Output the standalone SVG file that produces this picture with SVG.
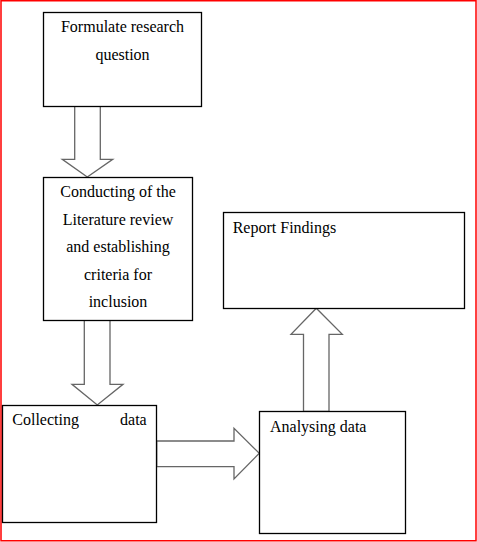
<svg xmlns="http://www.w3.org/2000/svg" width="477" height="542" viewBox="0 0 477 542">
<style>
.box{fill:#fff;stroke:#000;stroke-width:1.3}
.arr{fill:#fff;stroke:#666;stroke-width:1.3;stroke-linejoin:miter}
text{font-family:"Liberation Serif","Times New Roman",serif;font-size:16px;fill:#000}
.c{text-anchor:middle}
</style>
<rect x="1" y="0.75" width="475" height="540" fill="#fff" stroke="#f00" stroke-width="1.5"/>
<g id="connectors">
<polygon class="arr" points="74.7,106.3 100.3,106.3 100.3,159.3 112.7,159.3 87.3,177 62.3,159.3 74.7,159.3"/>
<polygon class="arr" points="84.3,320.3 110,320.3 110,384.3 123,384.3 97.3,405 72,384.3 84.3,384.3"/>
<polygon class="arr" points="156.7,441 234,441 234,428.3 259.3,453.3 234,479 234,466.7 156.7,466.7"/>
<polygon class="arr" points="303.5,411.3 303.5,334.3 291,334.3 316.3,308.3 342.3,334.3 329,334.3 329,411.3"/>
</g>
<g id="n1">
<rect class="box" x="43.5" y="12.5" width="158" height="94"/>
<text class="c" x="122.5" y="32">Formulate research</text>
<text class="c" x="122.5" y="60">question</text>
</g>
<g id="n2">
<rect class="box" x="43.5" y="177.5" width="149" height="143"/>
<text class="c" x="118" y="196.5">Conducting of the</text>
<text class="c" x="118" y="225">Literature review</text>
<text class="c" x="118" y="252">and establishing</text>
<text class="c" x="118" y="280">criteria for</text>
<text class="c" x="118" y="307">inclusion</text>
</g>
<g id="n3">
<rect class="box" x="2.5" y="405.5" width="154" height="117"/>
<text x="12.3" y="425">Collecting</text>
<text x="146.7" y="425" text-anchor="end">data</text>
</g>
<g id="n4">
<rect class="box" x="259.5" y="411.5" width="146" height="122"/>
<text x="270" y="432">Analysing data</text>
</g>
<g id="n5">
<rect class="box" x="223.5" y="212.5" width="241" height="96"/>
<text x="232.7" y="233">Report Findings</text>
</g>
</svg>
